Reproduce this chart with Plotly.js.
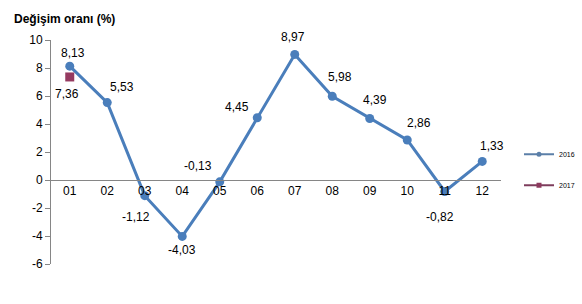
<!DOCTYPE html>
<html><head><meta charset="utf-8">
<script src="https://cdn.plot.ly/plotly-3.0.1.min.js"></script>
<style>body{margin:0;background:#fff}#c{width:582px;height:304px}</style>
</head><body><div id="c"></div>
<script>
const months = ['01','02','03','04','05','06','07','08','09','10','11','12'];
const values2016 = [8.13,5.53,-1.12,-4.03,-0.13,4.45,8.97,5.98,4.39,2.86,-0.82,1.33];
const months2017 = ['01'];
const values2017 = [7.36];
const yTicks = [-6,-4,-2,0,2,4,6,8,10];
// label offsets (px) for data labels
const shift2016 = [[3,13],[15,16],[-9,-21],[0,-14],[-22,16],[-20,11],[-2,17],[8,19],[5,19],[12,17],[-5,-26],[10,15]];
const shift2017 = [[-3,-17]];

const c16 = '#4a7ebb', c17 = '#953a60';
const fmt = v => v.toFixed(2).replace('.',',');
const lblFont = {family:'Liberation Sans, Arial',size:12,color:'#000'};
const ann = [];
values2016.forEach((v,i)=>ann.push({x:months.indexOf(months[i]),y:v,text:fmt(v),showarrow:false,xshift:shift2016[i][0],yshift:shift2016[i][1],font:lblFont}));
values2017.forEach((v,i)=>ann.push({x:months.indexOf(months2017[i]),y:v,text:fmt(v),showarrow:false,xshift:shift2017[i][0],yshift:shift2017[i][1],font:lblFont}));
ann.push({xref:'paper',yref:'paper',x:-0.087,y:1.095,xanchor:'left',yanchor:'middle',showarrow:false,text:'<b>Değişim oranı (%)</b>',font:lblFont});

const data = [
 {x:months,y:values2016,name:'2016',type:'scatter',mode:'lines+markers',line:{color:c16,width:3},marker:{symbol:'circle',size:9,color:c16},showlegend:false},
 {x:months2017,y:values2017,name:'2017',type:'scatter',mode:'lines+markers',line:{color:c17,width:3},marker:{symbol:'square',size:9,color:c17},showlegend:false},
 // legend-only entries (smaller symbols like the original legend)
 {x:[null],y:[null],name:'2016',type:'scatter',mode:'lines+markers',line:{color:'#5b7fa8',width:2},marker:{symbol:'circle',size:5,color:'#5b7fa8'},legendgroup:'a'},
 {x:[null],y:[null],name:'2017',type:'scatter',mode:'lines+markers',line:{color:'#7e3d5c',width:2},marker:{symbol:'square',size:5,color:'#8c3a5e'},legendgroup:'b'}
];
const layout = {
 width:582,height:304,margin:{l:51,r:81,t:40,b:40,autoexpand:false},
 paper_bgcolor:'#fff',plot_bgcolor:'#fff',
 font:{family:'Liberation Sans, Arial',size:12,color:'#000'},
 showlegend:true,
 legend:{x:1.04,y:0.555,xanchor:'left',yanchor:'top',font:{size:7,color:'#000'},tracegroupgap:12,itemwidth:30,bgcolor:'rgba(0,0,0,0)'},
 xaxis:{type:'category',categoryorder:'array',categoryarray:months,range:[-0.5,11.5],anchor:'free',position:0.375,showline:true,linecolor:'#868686',linewidth:1,ticks:'',showgrid:false,zeroline:false,fixedrange:true,tickfont:{size:12}},
 yaxis:{range:[-6,10],tickvals:yTicks,ticktext:yTicks.map(String),showline:true,linecolor:'#868686',linewidth:1,ticks:'outside',ticklen:5,tickcolor:'#868686',showgrid:false,zeroline:false,tickfont:{size:12}},
 annotations:ann
};
Plotly.newPlot('c',data,layout,{staticPlot:true});
</script></body></html>
